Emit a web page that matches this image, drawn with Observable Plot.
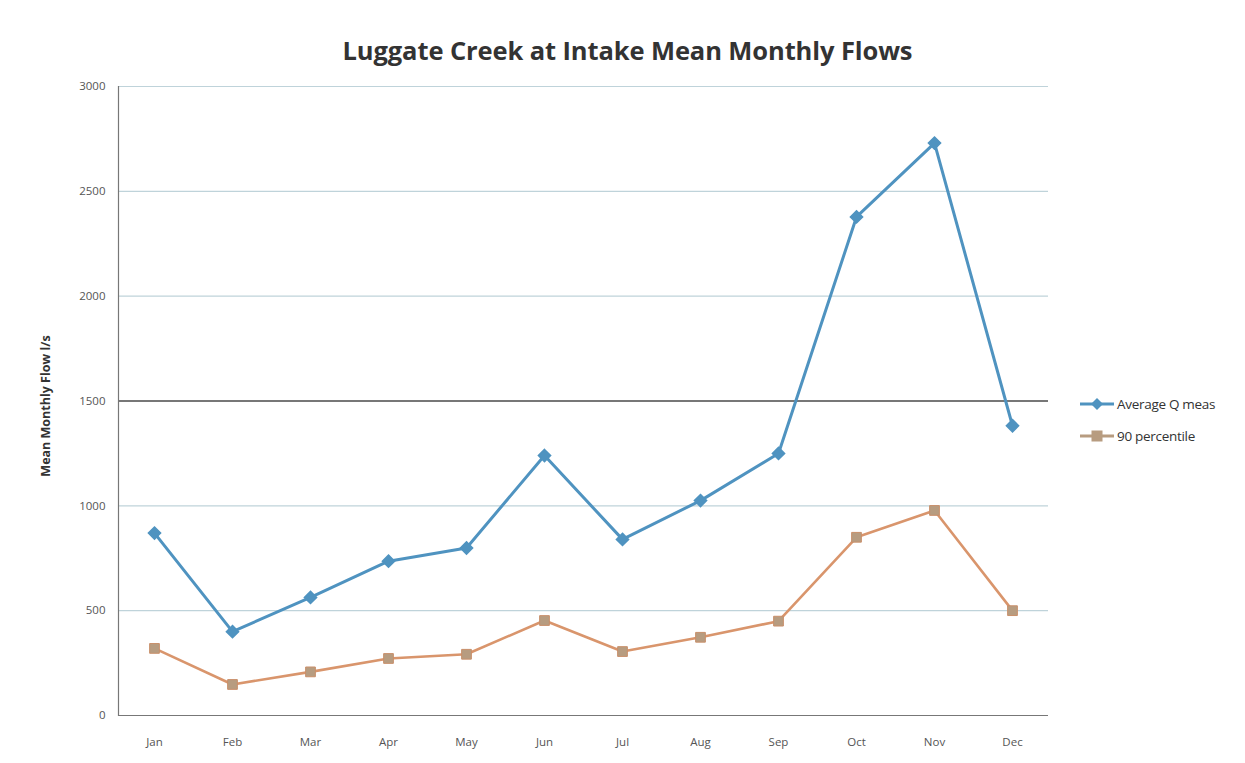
<!DOCTYPE html>
<html>
<head>
<meta charset="utf-8">
<script src="https://cdn.jsdelivr.net/npm/d3@7"></script>
<script src="https://cdn.jsdelivr.net/npm/@observablehq/plot@0.6"></script>
<style>
  html, body { margin: 0; padding: 0; background: #fff; }
  #wrap { position: relative; width: 1245px; height: 763px; font-family: "Open Sans", sans-serif; }
  #title { position: absolute; left: 0; top: 0; width: 1245px; height: 70px; text-align: center;
           font-weight: 700; font-size: 25.5px; color: #333; line-height: 100px; padding-left: 10px; box-sizing: border-box; letter-spacing: -0.1px; }
  #title span { display: inline-block; line-height: 1; vertical-align: baseline; }
  #chart { position: absolute; left: 0; top: 70px; }
  #legend { position: absolute; left: 1078px; top: 388px; font-size: 13.5px; color: #333; font-family: "Open Sans", sans-serif; letter-spacing: -0.3px; }
  .item { display: flex; align-items: center; height: 32px; }
  .item svg { margin-right: 1px; }
</style>
</head>
<body>
<div id="wrap">
  <div id="title"></div>
  <div id="chart"></div>
  <div id="legend"></div>
</div>
<script>
const months = ["Jan","Feb","Mar","Apr","May","Jun","Jul","Aug","Sep","Oct","Nov","Dec"];
const averageQ = [870, 400, 563, 736, 799, 1240, 840, 1025, 1250, 2378, 2730, 1382];
const percentile90 = [320, 148, 208, 272, 292, 453, 305, 373, 450, 850, 978, 500];
const seriesNames = ["Average Q meas", "90 percentile"];
const yTicks = [0, 500, 1000, 1500, 2000, 2500, 3000];
const titleText = "Luggate Creek at Intake Mean Monthly Flows";
const yLabel = "Mean Monthly Flow l/s";

const blue = "#4F93C0";
const orangeLine = "#D9956C";
const orangeMark = "#B79C80";

const rows = [];
months.forEach((m, i) => {
  rows.push({month: m, value: averageQ[i], series: seriesNames[0]});
  rows.push({month: m, value: percentile90[i], series: seriesNames[1]});
});
const avgRows = rows.filter(d => d.series === seriesNames[0]);
const pctRows = rows.filter(d => d.series === seriesNames[1]);

document.getElementById("title").innerHTML = "<span>" + titleText + "</span>";

const plot = Plot.plot({
  width: 1245,
  height: 693,
  marginTop: 16,
  marginBottom: 48,
  marginLeft: 118,
  marginRight: 197,
  style: {fontFamily: "Open Sans, sans-serif", fontSize: "11px", color: "#444", background: "#fff"},
  x: {type: "point", domain: months, padding: 0.46, label: null},
  y: {domain: [0, 3000], ticks: yTicks, label: null},
  marks: [
    Plot.ruleY(yTicks.filter(t => t !== 0 && t !== 1500), {stroke: "#BFD3DA", strokeWidth: 1.2}),
    Plot.ruleY([1500], {stroke: "#4a4a4a", strokeWidth: 1.6}),
    Plot.ruleY([0], {stroke: "#777", strokeWidth: 1.2}),
    Plot.frame({anchor: "left", stroke: "#777", strokeWidth: 1.2}),
    Plot.axisY({ticks: yTicks, tickSize: 0, tickPadding: 13, fontSize: 11.5, fill: "#555", tickFormat: d => String(d)}),
    Plot.axisX({tickSize: 0, tickPadding: 22, fontSize: 11.5, fill: "#555"}),
    Plot.text([yLabel], {frameAnchor: "left", textAnchor: "middle", dx: -73, dy: 5, rotate: -90, text: d => d, fontWeight: 700, fontSize: 12.5, fill: "#333"}),
    Plot.line(pctRows, {x: "month", y: "value", stroke: orangeLine, strokeWidth: 2.6}),
    Plot.dot(pctRows, {x: "month", y: "value", symbol: "square", r: 5.5, fill: orangeMark, stroke: "#C98F6A", strokeWidth: 1}),
    Plot.line(avgRows, {x: "month", y: "value", stroke: blue, strokeWidth: 3}),
    Plot.dot(avgRows, {x: "month", y: "value", symbol: "diamond2", r: 5.5, fill: blue, stroke: blue})
  ]
});
document.getElementById("chart").appendChild(plot);

const legend = document.getElementById("legend");
legend.innerHTML = `
<div class="item"><svg width="38" height="14"><line x1="2" y1="7" x2="36" y2="7" stroke="${blue}" stroke-width="3"/><path d="M19,1 L25,7 L19,13 L13,7 Z" fill="${blue}"/></svg><span>${seriesNames[0]}</span></div>
<div class="item"><svg width="38" height="14"><line x1="2" y1="7" x2="36" y2="7" stroke="${orangeMark}" stroke-width="3"/><rect x="13.5" y="1.5" width="11" height="11" fill="${orangeMark}"/></svg><span>${seriesNames[1]}</span></div>`;
</script>
</body>
</html>
